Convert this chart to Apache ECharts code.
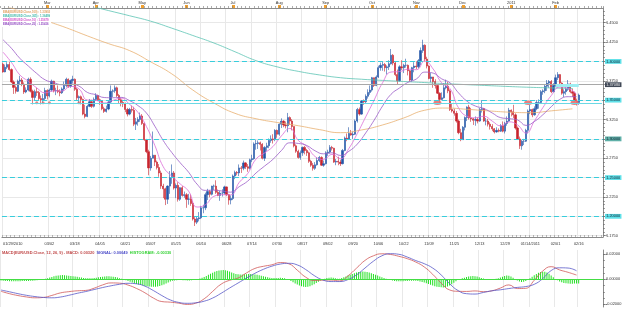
<!DOCTYPE html>
<html><head><meta charset="utf-8">
<script src="https://cdn.jsdelivr.net/npm/echarts@6/dist/echarts.min.js"></script>
<style>html,body{margin:0;padding:0;background:#fff}#c{width:625px;height:311px}</style>
</head><body><div id="c"></div>
<script>
// ---------------- DATA ----------------
const firstDay = '2010-01-29';
const padDays = 11;
const opens = [1.3965,1.3865,1.3925,1.3960,1.3895,1.3735,1.3665,1.3615,1.3745,1.3760,1.3705,1.3605,1.3630,1.3770,1.3615,1.3535,1.3610,1.3600,1.3520,1.3505,1.3520,1.3625,1.3555,1.3630,1.3745,1.3620,1.3625,1.3610,1.3595,1.3645,1.3690,1.3770,1.3680,1.3755,1.3770,1.3640,1.3530,1.3545,1.3510,1.3320,1.3290,1.3420,1.3480,1.3420,1.3510,1.3560,1.3505,1.3485,1.3390,1.3355,1.3385,1.3475,1.3615,1.3620,1.3660,1.3560,1.3505,1.3470,1.3450,1.3380,1.3320,1.3380,1.3370,1.3190,1.3220,1.3250,1.3295,1.3200,1.2990,1.2835,1.2625,1.2750,1.2790,1.2700,1.2630,1.2560,1.2390,1.2355,1.2220,1.2390,1.2500,1.2560,1.2365,1.2400,1.2220,1.2370,1.2270,1.2280,1.2220,1.2225,1.2165,1.1965,1.1925,1.1970,1.1980,1.2110,1.2110,1.2280,1.2320,1.2285,1.2390,1.2390,1.2310,1.2270,1.2300,1.2300,1.2380,1.2280,1.2210,1.2230,1.2520,1.2565,1.2560,1.2625,1.2620,1.2690,1.2640,1.2620,1.2730,1.2745,1.2935,1.2940,1.2950,1.2930,1.2750,1.2890,1.2910,1.2980,1.3000,1.2990,1.3110,1.3060,1.3190,1.3230,1.3180,1.3170,1.3275,1.3230,1.3160,1.2910,1.2840,1.2760,1.2820,1.2890,1.2850,1.2820,1.2710,1.2660,1.2620,1.2665,1.2720,1.2760,1.2660,1.2680,1.2820,1.2830,1.2890,1.2880,1.2700,1.2710,1.2700,1.2680,1.2850,1.3010,1.3000,1.3070,1.3050,1.3060,1.3230,1.3380,1.3320,1.3490,1.3480,1.3550,1.3600,1.3630,1.3790,1.3690,1.3800,1.3920,1.3950,1.3960,1.3920,1.3930,1.3970,1.4080,1.3980,1.3830,1.3750,1.3930,1.3920,1.3950,1.3950,1.3880,1.3760,1.3920,1.3940,1.3930,1.4010,1.4140,1.4210,1.4030,1.3940,1.3780,1.3800,1.3740,1.3690,1.3590,1.3510,1.3530,1.3660,1.3680,1.3620,1.3380,1.3360,1.3330,1.3230,1.3080,1.2990,1.3150,1.3275,1.3410,1.3270,1.3260,1.3240,1.3250,1.3230,1.3380,1.3390,1.3230,1.3230,1.3190,1.3160,1.3130,1.3090,1.3110,1.3100,1.3170,1.3100,1.3200,1.3230,1.3370,1.3350,1.3310,1.3140,1.3000,1.2910,1.2970,1.2970,1.3110,1.3360,1.3380,1.3310,1.3390,1.3470,1.3470,1.3610,1.3620,1.3680,1.3720,1.3740,1.3610,1.3690,1.3790,1.3830,1.3720,1.3590,1.3610,1.3640,1.3710,1.3610,1.3590,1.3490,1.3470];
const closes = [1.3865,1.3925,1.3960,1.3895,1.3735,1.3665,1.3615,1.3745,1.3760,1.3705,1.3605,1.3630,1.3770,1.3615,1.3535,1.3610,1.3600,1.3520,1.3505,1.3520,1.3625,1.3555,1.3630,1.3745,1.3620,1.3625,1.3610,1.3595,1.3645,1.3690,1.3770,1.3680,1.3755,1.3770,1.3640,1.3530,1.3545,1.3510,1.3320,1.3290,1.3420,1.3480,1.3420,1.3510,1.3560,1.3505,1.3485,1.3390,1.3355,1.3385,1.3475,1.3615,1.3620,1.3660,1.3560,1.3505,1.3470,1.3450,1.3380,1.3320,1.3380,1.3370,1.3190,1.3220,1.3250,1.3295,1.3200,1.2990,1.2835,1.2625,1.2750,1.2790,1.2700,1.2630,1.2560,1.2390,1.2355,1.2220,1.2390,1.2500,1.2560,1.2365,1.2400,1.2220,1.2370,1.2270,1.2280,1.2220,1.2225,1.2165,1.1965,1.1925,1.1970,1.1980,1.2110,1.2110,1.2280,1.2320,1.2285,1.2390,1.2390,1.2310,1.2270,1.2300,1.2300,1.2380,1.2280,1.2210,1.2230,1.2520,1.2565,1.2560,1.2625,1.2620,1.2690,1.2640,1.2620,1.2730,1.2745,1.2935,1.2940,1.2950,1.2930,1.2750,1.2890,1.2910,1.2980,1.3000,1.2990,1.3110,1.3060,1.3190,1.3230,1.3180,1.3170,1.3275,1.3230,1.3160,1.2910,1.2840,1.2760,1.2820,1.2890,1.2850,1.2820,1.2710,1.2660,1.2620,1.2665,1.2720,1.2760,1.2660,1.2680,1.2820,1.2830,1.2890,1.2880,1.2700,1.2710,1.2700,1.2680,1.2850,1.3010,1.3000,1.3070,1.3050,1.3060,1.3230,1.3380,1.3320,1.3490,1.3480,1.3550,1.3600,1.3630,1.3790,1.3690,1.3800,1.3920,1.3950,1.3960,1.3920,1.3930,1.3970,1.4080,1.3980,1.3830,1.3750,1.3930,1.3920,1.3950,1.3950,1.3880,1.3760,1.3920,1.3940,1.3930,1.4010,1.4140,1.4210,1.4030,1.3940,1.3780,1.3800,1.3740,1.3690,1.3590,1.3510,1.3530,1.3660,1.3680,1.3620,1.3380,1.3360,1.3330,1.3230,1.3080,1.2990,1.3150,1.3275,1.3410,1.3270,1.3260,1.3240,1.3250,1.3230,1.3380,1.3390,1.3230,1.3230,1.3190,1.3160,1.3130,1.3090,1.3110,1.3100,1.3170,1.3100,1.3200,1.3230,1.3370,1.3350,1.3310,1.3140,1.3000,1.2910,1.2970,1.2970,1.3110,1.3360,1.3380,1.3310,1.3390,1.3470,1.3470,1.3610,1.3620,1.3680,1.3720,1.3740,1.3610,1.3690,1.3790,1.3830,1.3720,1.3590,1.3610,1.3640,1.3710,1.3610,1.3590,1.3490,1.3470,1.3565];
const lows = [1.3855,1.3860,1.3900,1.3880,1.3720,1.3580,1.3585,1.3605,1.3700,1.3680,1.3580,1.3590,1.3615,1.3600,1.3445,1.3500,1.3555,1.3490,1.3445,1.3455,1.3490,1.3510,1.3535,1.3610,1.3600,1.3565,1.3590,1.3550,1.3580,1.3615,1.3665,1.3660,1.3660,1.3715,1.3620,1.3500,1.3450,1.3445,1.3305,1.3265,1.3280,1.3410,1.3400,1.3405,1.3490,1.3490,1.3440,1.3370,1.3335,1.3340,1.3370,1.3465,1.3540,1.3595,1.3540,1.3450,1.3420,1.3410,1.3345,1.3290,1.3305,1.3340,1.3165,1.3115,1.3170,1.3220,1.3180,1.2975,1.2815,1.2530,1.2590,1.2750,1.2650,1.2605,1.2510,1.2355,1.2235,1.2145,1.2160,1.2290,1.2420,1.2345,1.2235,1.2190,1.2200,1.2255,1.2240,1.2110,1.2150,1.2135,1.1945,1.1875,1.1900,1.1935,1.1965,1.2040,1.2080,1.2210,1.2245,1.2270,1.2340,1.2290,1.2260,1.2200,1.2255,1.2280,1.2260,1.2150,1.2155,1.2210,1.2480,1.2530,1.2520,1.2560,1.2595,1.2610,1.2575,1.2605,1.2700,1.2730,1.2860,1.2870,1.2850,1.2735,1.2715,1.2845,1.2880,1.2950,1.2940,1.2970,1.3015,1.3040,1.3140,1.3150,1.3135,1.3085,1.3180,1.3110,1.2890,1.2820,1.2745,1.2730,1.2780,1.2800,1.2780,1.2690,1.2640,1.2590,1.2600,1.2655,1.2700,1.2650,1.2640,1.2670,1.2780,1.2810,1.2850,1.2690,1.2660,1.2660,1.2650,1.2670,1.2840,1.2970,1.2985,1.3040,1.3000,1.3050,1.3210,1.3300,1.3310,1.3440,1.3450,1.3520,1.3570,1.3610,1.3670,1.3680,1.3785,1.3880,1.3880,1.3870,1.3830,1.3890,1.3960,1.3950,1.3810,1.3700,1.3740,1.3890,1.3850,1.3920,1.3820,1.3745,1.3740,1.3860,1.3900,1.3910,1.3950,1.4110,1.4000,1.3910,1.3770,1.3730,1.3660,1.3650,1.3580,1.3450,1.3500,1.3520,1.3640,1.3590,1.3360,1.3340,1.3300,1.3210,1.3060,1.2970,1.2985,1.3110,1.3230,1.3250,1.3220,1.3180,1.3170,1.3200,1.3220,1.3340,1.3220,1.3175,1.3160,1.3120,1.3100,1.3070,1.3080,1.3085,1.3090,1.3085,1.3070,1.3170,1.3220,1.3290,1.3270,1.3120,1.2985,1.2870,1.2860,1.2920,1.2960,1.3070,1.3320,1.3280,1.3300,1.3370,1.3390,1.3450,1.3570,1.3590,1.3620,1.3660,1.3590,1.3600,1.3670,1.3760,1.3690,1.3570,1.3540,1.3570,1.3620,1.3590,1.3540,1.3480,1.3430,1.3440];
const highs = [1.3985,1.3960,1.3990,1.3995,1.3910,1.3755,1.3690,1.3765,1.3815,1.3785,1.3730,1.3665,1.3790,1.3795,1.3635,1.3635,1.3660,1.3620,1.3560,1.3580,1.3660,1.3640,1.3650,1.3765,1.3750,1.3660,1.3690,1.3640,1.3665,1.3740,1.3790,1.3780,1.3765,1.3815,1.3780,1.3660,1.3560,1.3560,1.3520,1.3440,1.3440,1.3515,1.3505,1.3535,1.3590,1.3570,1.3520,1.3500,1.3415,1.3430,1.3500,1.3690,1.3640,1.3690,1.3675,1.3580,1.3530,1.3505,1.3470,1.3400,1.3400,1.3430,1.3415,1.3270,1.3280,1.3340,1.3320,1.3210,1.3000,1.2860,1.2780,1.3095,1.2790,1.2720,1.2675,1.2590,1.2420,1.2370,1.2400,1.2585,1.2670,1.2585,1.2425,1.2440,1.2375,1.2390,1.2320,1.2300,1.2290,1.2280,1.2195,1.1990,1.2000,1.2055,1.2135,1.2150,1.2305,1.2355,1.2340,1.2395,1.2410,1.2465,1.2345,1.2330,1.2350,1.2395,1.2385,1.2290,1.2270,1.2540,1.2590,1.2585,1.2670,1.2650,1.2720,1.2700,1.2675,1.2745,1.2795,1.2955,1.2990,1.2980,1.2965,1.2945,1.2905,1.2950,1.3005,1.3045,1.3060,1.3125,1.3120,1.3200,1.3265,1.3240,1.3225,1.3335,1.3290,1.3255,1.3160,1.2930,1.2860,1.2850,1.2900,1.2910,1.2870,1.2835,1.2730,1.2690,1.2700,1.2760,1.2780,1.2775,1.2720,1.2840,1.2860,1.2920,1.2910,1.2885,1.2740,1.2770,1.2730,1.2870,1.3030,1.3070,1.3150,1.3115,1.3095,1.3250,1.3400,1.3405,1.3500,1.3510,1.3575,1.3640,1.3690,1.3800,1.3790,1.3820,1.3945,1.3985,1.3995,1.3980,1.3950,1.4015,1.4160,1.4095,1.4000,1.3895,1.3950,1.4015,1.3970,1.4035,1.3960,1.3890,1.3930,1.3990,1.4000,1.4030,1.4180,1.4280,1.4220,1.4060,1.3950,1.3850,1.3800,1.3770,1.3700,1.3600,1.3600,1.3720,1.3765,1.3735,1.3640,1.3460,1.3390,1.3360,1.3250,1.3130,1.3165,1.3290,1.3420,1.3440,1.3400,1.3270,1.3290,1.3275,1.3400,1.3500,1.3400,1.3270,1.3260,1.3215,1.3190,1.3140,1.3150,1.3135,1.3190,1.3225,1.3220,1.3290,1.3400,1.3380,1.3440,1.3330,1.3160,1.3030,1.2985,1.3000,1.3130,1.3380,1.3440,1.3390,1.3420,1.3500,1.3510,1.3630,1.3640,1.3700,1.3760,1.3760,1.3760,1.3720,1.3830,1.3862,1.3835,1.3730,1.3640,1.3680,1.3760,1.3725,1.3650,1.3610,1.3520,1.3585];
// EMAs read every 4th trading day
const emaShortStep = 4;
const ema10 = [1.4120,1.3987,1.3826,1.3744,1.3659,1.3595,1.3619,1.3619,1.3677,1.3646,1.3502,1.3497,1.3463,1.3496,1.3525,1.3446,1.3342,1.3160,1.2915,1.2640,1.2518,1.2419,1.2325,1.2120,1.2150,1.2258,1.2279,1.2277,1.2438,1.2551,1.2740,1.2818,1.2901,1.3038,1.3135,1.2980,1.2905,1.2772,1.2735,1.2801,1.2744,1.2876,1.3070,1.3285,1.3502,1.3726,1.3863,1.3869,1.3900,1.3893,1.4006,1.3901,1.3724,1.3647,1.3400,1.3293,1.3272,1.3292,1.3229,1.3168,1.3220,1.3180,1.3075,1.3233,1.3404,1.3561,1.3669,1.3652,1.3575];
const ema25 = [1.4280,1.4170,1.4040,1.3941,1.3845,1.3762,1.3728,1.3699,1.3705,1.3682,1.3600,1.3571,1.3534,1.3531,1.3536,1.3494,1.3430,1.3334,1.3164,1.2978,1.2825,1.2692,1.2570,1.2416,1.2335,1.2338,1.2326,1.2312,1.2383,1.2454,1.2560,1.2648,1.2736,1.2849,1.2949,1.2941,1.2915,1.2846,1.2807,1.2820,1.2786,1.2840,1.2933,1.3077,1.3242,1.3425,1.3576,1.3657,1.3730,1.3773,1.3862,1.3849,1.3775,1.3723,1.3594,1.3487,1.3424,1.3392,1.3334,1.3274,1.3261,1.3244,1.3174,1.3225,1.3312,1.3416,1.3510,1.3545,1.3544];
// long EMAs read every 10th trading day
const emaLongStep = 10;
const ema100 = [1.4730,1.4630,1.4530,1.4435,1.4330,1.4230,1.4140,1.3995,1.3840,1.3631,1.3463,1.3330,1.3260,1.3212,1.3170,1.3120,1.3080,1.3115,1.3180,1.3270,1.3370,1.3398,1.3382,1.3362,1.3345,1.3338,1.3362,1.3388];
const ema365 = [1.4985,1.4920,1.4855,1.4790,1.4725,1.4657,1.4590,1.4520,1.4430,1.4335,1.4238,1.4125,1.4010,1.3930,1.3872,1.3826,1.3790,1.3770,1.3755,1.3741,1.3727,1.3713,1.3700,1.3688,1.3676,1.3666,1.3658,1.3651];
// MACD panel
const macdStep = 4;
const macdLine = [-0.0096,-0.0115,-0.0130,-0.0141,-0.0148,-0.0145,-0.0129,-0.0109,-0.0099,-0.0092,-0.0089,-0.0071,-0.0045,-0.0029,-0.0031,-0.0046,-0.0073,-0.0108,-0.0150,-0.0178,-0.0183,-0.0191,-0.0201,-0.0191,-0.0156,-0.0097,-0.0039,-0.0008,0.0010,0.0051,0.0087,0.0104,0.0116,0.0134,0.0124,0.0073,0.0017,-0.0010,-0.0007,-0.0006,-0.0013,0.0028,0.0089,0.0151,0.0188,0.0204,0.0199,0.0184,0.0165,0.0138,0.0099,0.0040,-0.0030,-0.0085,-0.0096,-0.0097,-0.0093,-0.0099,-0.0092,-0.0070,-0.0045,-0.0074,-0.0072,-0.0008,0.0066,0.0101,0.0075,0.0056,0.0034];
const signalLine = [-0.0086,-0.0100,-0.0115,-0.0128,-0.0138,-0.0145,-0.0148,-0.0142,-0.0128,-0.0112,-0.0098,-0.0082,-0.0066,-0.0052,-0.0040,-0.0032,-0.0036,-0.0055,-0.0090,-0.0130,-0.0165,-0.0185,-0.0192,-0.0188,-0.0175,-0.0150,-0.0112,-0.0070,-0.0030,0.0010,0.0048,0.0080,0.0105,0.0122,0.0128,0.0115,0.0078,0.0030,-0.0005,-0.0018,-0.0018,-0.0002,0.0035,0.0090,0.0145,0.0188,0.0205,0.0200,0.0178,0.0150,0.0125,0.0090,0.0035,-0.0035,-0.0090,-0.0115,-0.0118,-0.0105,-0.0092,-0.0084,-0.0074,-0.0065,-0.0058,-0.0040,0.0005,0.0070,0.0092,0.0090,0.0068];
const histogram = [-0.0010,-0.0012,-0.0013,-0.0014,-0.0015,-0.0015,-0.0016,-0.0016,-0.0015,-0.0015,-0.0014,-0.0014,-0.0013,-0.0013,-0.0012,-0.0011,-0.0010,-0.0008,-0.0006,-0.0003,
0.0000,0.0004,0.0009,0.0014,0.0019,0.0024,0.0028,0.0031,0.0033,0.0034,0.0033,0.0031,
0.0029,0.0027,0.0025,0.0022,0.0020,0.0017,0.0014,
0.0011,0.0009,0.0008,0.0008,0.0009,0.0011,0.0013,
0.0016,0.0019,0.0021,0.0023,0.0024,0.0024,0.0023,0.0021,0.0018,0.0014,0.0009,0.0004,
-0.0002,-0.0008,-0.0014,-0.0020,-0.0026,-0.0032,-0.0037,-0.0042,-0.0046,-0.0050,-0.0053,-0.0056,-0.0058,-0.0060,-0.0060,-0.0059,-0.0057,-0.0053,-0.0048,-0.0041,-0.0033,-0.0025,-0.0018,-0.0012,
-0.0009,-0.0007,-0.0006,-0.0006,-0.0007,-0.0008,-0.0009,-0.0009,-0.0008,-0.0006,-0.0003,0.0001,0.0006,0.0012,
0.0019,0.0027,0.0036,0.0045,0.0053,0.0060,0.0066,0.0070,0.0073,0.0074,0.0072,0.0068,0.0062,0.0055,0.0048,0.0043,
0.0040,0.0039,0.0039,0.0040,0.0041,0.0042,0.0042,0.0041,0.0039,0.0036,0.0032,0.0028,0.0024,0.0020,0.0016,0.0013,0.0011,
0.0010,0.0010,0.0011,0.0012,0.0011,0.0008,0.0003,
-0.0004,-0.0013,-0.0023,-0.0033,-0.0042,-0.0050,-0.0056,-0.0060,-0.0061,-0.0059,-0.0055,-0.0048,-0.0040,-0.0030,-0.0020,-0.0010,
-0.0002,0.0005,0.0010,0.0013,0.0014,0.0012,0.0008,0.0004,
0.0005,0.0010,0.0016,0.0023,0.0030,0.0037,0.0043,0.0049,0.0054,0.0058,0.0061,0.0062,0.0061,0.0058,0.0054,0.0049,0.0043,0.0037,0.0030,0.0023,0.0016,0.0010,0.0004,
-0.0002,-0.0006,-0.0010,-0.0013,-0.0015,-0.0016,-0.0016,-0.0015,-0.0014,-0.0013,-0.0012,-0.0011,-0.0011,-0.0012,-0.0014,-0.0017,-0.0021,-0.0026,
-0.0032,-0.0038,-0.0044,-0.0050,-0.0055,-0.0059,-0.0062,-0.0064,-0.0065,-0.0063,-0.0058,-0.0050,-0.0040,-0.0028,-0.0016,
-0.0006,0.0002,0.0008,0.0013,
0.0018,0.0022,0.0025,0.0026,0.0025,0.0022,0.0017,0.0011,
0.0006,0.0002,0.0000,-0.0001,0.0000,0.0002,0.0005,0.0009,
0.0014,0.0020,0.0026,0.0030,0.0029,0.0023,0.0013,
0.0002,-0.0009,-0.0017,-0.0021,-0.0020,-0.0014,-0.0004,
0.0008,0.0020,0.0032,0.0043,0.0052,0.0058,0.0061,0.0060,0.0054,0.0044,0.0031,0.0016,
0.0003,-0.0008,-0.0017,-0.0024,-0.0029,-0.0032,-0.0034,-0.0035,-0.0035,-0.0034,-0.0034,-0.0033];
// tick labels
const dateTickDays = ['01/29/2010','03/02/2010','03/18/2010','04/05/2010','04/21/2010','05/07/2010','05/25/2010','06/10/2010','06/28/2010','07/14/2010','07/30/2010','08/17/2010','09/02/2010','09/20/2010','10/06/2010','10/22/2010','11/09/2010','11/25/2010','12/13/2010','12/29/2010','01/14/2011','02/01/2011','02/16/2011'];
const dateTickText = ['01/29/2010','03/02','03/18','04/05','04/21','05/07','05/25','06/10','06/28','07/14','07/30','08/17','09/02','09/20','10/06','10/22','11/09','11/25','12/13','12/29','01/14/2011','02/01','02/16'];
const monthTickDays = ['03/01/2010','04/01/2010','05/03/2010','06/01/2010','07/01/2010','08/02/2010','09/01/2010','10/01/2010','11/01/2010','12/01/2010','01/03/2011','02/01/2011'];
const monthTickText = ['Mar','Apr','May','Jun','Jul','Aug','Sep','Oct','Nov','Dec','2011','Feb'];
const priceTicks = [1.175,1.2,1.225,1.25,1.275,1.3,1.325,1.35,1.375,1.4,1.425,1.45];
const priceLabels = [1.175,1.225,1.275,1.325,1.375,1.425,1.45];
const macdLabels = [-0.02,0,0.02];
// horizontal levels
const levelValues = [1.40,1.35,1.30,1.25,1.20];
const levelText = ['1.40000','1.35000','1.30000','1.25000','1.20000'];
const grayLevel = 1.3708, grayLevelText = '1.37080';
const bidLevel = 1.3565, bidText = '1.35648';
const alertLevel = 1.3465, alertStartDay = '02/17/2010';
const alertSmallDays = ['02/22/2010','02/25/2010','03/02/2010','03/22/2010'];
const alertBigDays = ['11/15/2010','01/13/2011','02/14/2011'];
const bandDays = ['02/01/2011','02/16/2011'], bandValue = 1.3690;
const legendEma = [['EMA(EUR/USD.Close,100) : 1.33902','#e0a060'],['EMA(EUR/USD.Close,365) : 1.36499','#40b8a8'],['EMA(EUR/USD.Close,10) : 1.35679','#d050c8'],['EMA(EUR/USD.Close,25) : 1.35416','#9048c0']];
const legendMacd = [['MACD(EUR/USD.Close, 12, 26, 9) - MACD: 0.00320','#c04848'],['SIGNAL: 0.00649','#4848c8'],['HISTOGRAM: -0.00330','#30d030']];

// ---------------- BUILD ----------------
function pad2(n){return (n<10?'0':'')+n;}
function buildDays(startISO, count){
  const out=[]; const d=new Date(startISO+'T00:00:00Z');
  while(out.length<count){const w=d.getUTCDay(); if(w!==0&&w!==6) out.push(pad2(d.getUTCMonth()+1)+'/'+pad2(d.getUTCDate())+'/'+d.getUTCFullYear()); d.setUTCDate(d.getUTCDate()+1);}
  return out;
}
const days = buildDays(firstDay, closes.length + padDays);
const candles = closes.map((c,i)=>[opens[i], c, lows[i], highs[i]]);
const sampled = (arr, step) => arr.map((v,k)=>[days[k*step], v]);
const dateMap = new Map(dateTickDays.map((d,i)=>[d,dateTickText[i]]));
const monthMap = new Map(monthTickDays.map((d,i)=>[d,monthTickText[i]]));
const rulerPrice=[]; for(let k=0;k<=58;k++) rulerPrice.push(+(1.175+0.005*k).toFixed(4));
const rulerMacd=[]; for(let k=-4;k<=4;k++) rulerMacd.push(+(0.005*k).toFixed(4));

const FONT='Liberation Sans';
const GL=-2, GR=22;
const grids=[
  {left:GL,right:GR,top:8,bottom:74},
  {left:GL,right:GR,top:8,bottom:74},
  {left:GL,right:GR,top:250,bottom:4},
  {left:GL,right:GR,top:250,bottom:4}
];
const gridColor='#e8e8e8';
const isDateTick=(i,v)=>dateMap.has(v);
const isMonthTick=(i,v)=>monthMap.has(v);

const levelMarks = levelValues.map((v,i)=>({yAxis:v, lineStyle:{color:'#38cddc',type:[5,3],width:1},
  label:{formatter:levelText[i], backgroundColor: v===1.30?'#5fb0a8':'#5ee0e8', color:'#123'}}));
levelMarks.push({yAxis:grayLevel, lineStyle:{color:'#a8a8a8',type:'solid',width:1},
  label:{formatter:grayLevelText, backgroundColor:'#424a58', color:'#e8e8e8'}});
levelMarks.push({yAxis:bidLevel, lineStyle:{opacity:0},
  label:{formatter:bidText, backgroundColor:'#48d8ec', color:'#123', offset:[0,-3.5]}});
levelMarks.push([{coord:[alertStartDay, alertLevel], lineStyle:{color:'#6cd8e4',type:'solid',width:1}, label:{show:false}},{coord:[days[days.length-1], alertLevel]}]);
levelMarks.push([{coord:[bandDays[0], bandValue], lineStyle:{color:'#9eeef2',type:'solid',width:3}, label:{show:false}},{coord:[bandDays[1], bandValue]}]);

const emaRich = {}; legendEma.forEach((l,i)=>{emaRich['s'+i]={color:l[1],fontSize:2.8,lineHeight:4.1,fontFamily:FONT};});
const macdRich = {}; legendMacd.forEach((l,i)=>{macdRich['m'+i]={color:l[1],fontSize:3.9,lineHeight:4.5,fontFamily:FONT};});

const option = {
  animation:false,
  backgroundColor:'#ffffff',
  textStyle:{fontFamily:FONT},
  title:[
    {left:2,top:9.5,padding:[0.5,1,0.5,1],itemGap:0,backgroundColor:'#ffffff',z:10,
     text: legendEma.map((l,i)=>'{s'+i+'|'+l[0]+'}').join('\n'),
     textStyle:{fontFamily:FONT,fontSize:2.8,lineHeight:4.1,rich:emaRich}},
    {left:2,top:250.5,padding:0,
     text: legendMacd.map((l,i)=>'{m'+i+'|'+l[0]+'}').join('{m0|  }'),
     textStyle:{fontFamily:FONT,fontSize:3.9,lineHeight:4.5,rich:macdRich}}
  ],
  grid:grids,
  xAxis:[
    {gridIndex:0,type:'category',data:days,position:'bottom',boundaryGap:true,
     axisLine:{lineStyle:{color:'#8a8a8a',width:1}},
     axisTick:{show:true,interval:1,length:2,inside:true,lineStyle:{color:'#8a8a8a',width:0.6}},
     axisLabel:{interval:isDateTick,formatter:v=>dateMap.get(v)||'',fontSize:3.9,color:'#333',margin:5,fontFamily:FONT,alignMinLabel:'left'},
     splitLine:{show:true,interval:isDateTick,lineStyle:{color:gridColor,width:1}}},
    {gridIndex:0,type:'category',data:days,position:'top',boundaryGap:true,
     axisLine:{lineStyle:{color:'#8a8a8a',width:1}},
     axisTick:{show:true,interval:isMonthTick,alignWithLabel:true,length:3,lineStyle:{color:'#f0a030',width:3}},
     axisLabel:{interval:isMonthTick,formatter:v=>monthMap.get(v)||'',fontSize:3.9,color:'#333',margin:3.5,fontFamily:FONT},
     splitLine:{show:false}},
    {gridIndex:1,type:'category',data:days,position:'top',boundaryGap:true,
     axisLine:{show:false},axisTick:{show:true,interval:1,length:2,lineStyle:{color:'#777',width:0.6}},
     axisLabel:{show:false},splitLine:{show:false}},
    {gridIndex:2,type:'category',data:days,position:'bottom',boundaryGap:true,
     axisLine:{lineStyle:{color:'#a0a0a0',width:1}},axisTick:{show:false},axisLabel:{show:false},
     splitLine:{show:true,interval:isDateTick,lineStyle:{color:gridColor,width:1}}},
    {gridIndex:3,type:'category',data:days,position:'top',boundaryGap:true,
     axisLine:{lineStyle:{color:'#c8c8c8',width:1}},axisTick:{show:false},axisLabel:{show:false},splitLine:{show:false}}
  ],
  yAxis:[
    {gridIndex:0,type:'value',position:'right',min:1.1733,max:1.4690,scale:true,
     axisLine:{show:true,lineStyle:{color:'#8a8a8a',width:1}},
     axisTick:{show:true,customValues:priceTicks,length:4,lineStyle:{color:'#666',width:0.6}},
     axisLabel:{customValues:priceLabels,formatter:v=>v.toFixed(4),fontSize:3.9,color:'#333',margin:3,fontFamily:FONT},
     splitLine:{show:true,lineStyle:{color:gridColor,width:1}}},
    {gridIndex:1,type:'value',position:'right',min:1.1733,max:1.4690,
     axisLine:{show:false},axisTick:{show:true,customValues:rulerPrice,length:2,lineStyle:{color:'#666',width:0.6}},
     axisLabel:{show:false},splitLine:{show:false}},
    {gridIndex:2,type:'value',position:'right',min:-0.02216,max:0.02344,
     axisLine:{show:true,lineStyle:{color:'#8a8a8a',width:1}},
     axisTick:{show:true,customValues:macdLabels,length:4,lineStyle:{color:'#666',width:0.6}},
     axisLabel:{customValues:macdLabels,formatter:v=>v.toFixed(5),fontSize:3.9,color:'#333',margin:3,fontFamily:FONT},
     splitLine:{show:false}},
    {gridIndex:3,type:'value',position:'right',min:-0.02216,max:0.02344,
     axisLine:{show:false},axisTick:{show:true,customValues:rulerMacd,length:2,lineStyle:{color:'#666',width:0.6}},
     axisLabel:{show:false},splitLine:{show:false}}
  ],
  series:[
    {type:'line',xAxisIndex:0,yAxisIndex:0,data:[],z:1,silent:true,
     markLine:{symbol:'none',silent:true,animation:false,
       label:{show:true,position:'end',distance:2,fontSize:3.9,fontFamily:FONT,padding:[0.6,1.2,0.2,1.2]},
       data:levelMarks}},
    {type:'candlestick',xAxisIndex:0,yAxisIndex:0,data:candles,z:2,barWidth:1.7,
     itemStyle:{color:'#2456a8',color0:'#c8242d',borderColor:'#2456a8',borderColor0:'#c8242d',borderWidth:0.6}},
    {type:'line',xAxisIndex:0,yAxisIndex:0,data:sampled(ema100,emaLongStep),smooth:true,symbol:'none',z:3,lineStyle:{color:'#e8b070',width:0.8}},
    {type:'line',xAxisIndex:0,yAxisIndex:0,data:sampled(ema365,emaLongStep),smooth:true,symbol:'none',z:3,lineStyle:{color:'#5cc4b4',width:0.8}},
    {type:'line',xAxisIndex:0,yAxisIndex:0,data:sampled(ema10,emaShortStep),smooth:true,symbol:'none',z:3,lineStyle:{color:'#dc6cd8',width:0.8}},
    {type:'line',xAxisIndex:0,yAxisIndex:0,data:sampled(ema25,emaShortStep),smooth:true,symbol:'none',z:3,lineStyle:{color:'#9a5cc8',width:0.8}},
    {type:'scatter',xAxisIndex:0,yAxisIndex:0,data:alertSmallDays.map(d=>[d,alertLevel]),symbol:'circle',symbolSize:3,z:4,itemStyle:{color:'#d86868'}},
    {type:'scatter',xAxisIndex:0,yAxisIndex:0,data:alertBigDays.map(d=>[d,alertLevel]),symbol:'circle',symbolSize:[8,4.5],z:4,itemStyle:{color:'#e87070',opacity:0.9}},
    {type:'bar',xAxisIndex:3,yAxisIndex:2,data:histogram,barWidth:1,z:2,itemStyle:{color:'#22e022'},
     markLine:{symbol:'none',silent:true,label:{show:false},data:[{yAxis:0}],lineStyle:{color:'#44dd44',type:'solid',width:1}}},
    {type:'line',xAxisIndex:3,yAxisIndex:2,data:sampled(macdLine,macdStep),smooth:true,symbol:'none',z:3,lineStyle:{color:'#d05858',width:0.8}},
    {type:'line',xAxisIndex:3,yAxisIndex:2,data:sampled(signalLine,macdStep),smooth:true,symbol:'none',z:3,lineStyle:{color:'#5858c8',width:0.8}}
  ]
};
const chart = echarts.init(document.getElementById('c'), null, {renderer:'canvas'});
chart.setOption(option);
</script></body></html>
